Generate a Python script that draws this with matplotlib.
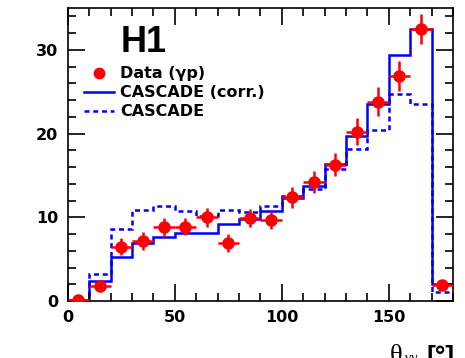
import numpy as np
import matplotlib
matplotlib.use("Agg")
import matplotlib.pyplot as plt
from matplotlib.ticker import MultipleLocator
from matplotlib.lines import Line2D

edges = np.arange(0, 190, 10)
data_y = [0.1, 1.8, 6.5, 7.2, 8.8, 8.9, 10.0, 6.9, 9.9, 9.7, 12.4, 14.2, 16.3, 20.2, 23.8, 26.9, 32.5, 1.9]
data_err = [0.2, 0.5, 1.0, 1.05, 1.1, 1.0, 1.1, 1.05, 1.1, 1.05, 1.25, 1.35, 1.35, 1.6, 1.7, 1.8, 1.8, 0.3]
cascade_corr = [0.1, 2.4, 5.3, 6.9, 7.6, 8.1, 8.1, 9.2, 9.8, 10.8, 12.3, 13.7, 16.4, 19.7, 23.5, 29.4, 32.5, 2.0]
cascade = [0.05, 3.2, 8.6, 10.9, 11.3, 10.8, 10.2, 10.9, 10.6, 11.3, 12.6, 13.4, 15.8, 18.2, 20.4, 24.7, 23.5, 1.1]

plt.rcParams['font.family'] = ['DejaVu Sans']

fig = plt.figure(figsize=(4.65, 3.58), dpi=100)
ax = fig.add_axes([0.1456, 0.159, 0.974 - 0.1456, 0.978 - 0.159])

centers = (edges[:-1] + edges[1:]) / 2
ax.stairs(cascade_corr, edges, color='#0000ff', lw=1.8, baseline=None)
ax.stairs(cascade, edges, color='#0000ff', lw=1.8, ls=(0, (2, 1.5)), baseline=None)
ax.errorbar(centers, data_y, yerr=data_err, xerr=5, fmt='o', color='#ff0000', ms=8,
            elinewidth=1.8, capsize=0, zorder=5)

ax.set_xlim(0, 180)
ax.set_ylim(0, 35)
ax.xaxis.set_major_locator(MultipleLocator(50))
ax.xaxis.set_minor_locator(MultipleLocator(10))
ax.yaxis.set_major_locator(MultipleLocator(10))
ax.yaxis.set_minor_locator(MultipleLocator(2))
ax.tick_params(which='both', direction='in', top=True, right=True, width=1.2)
ax.tick_params(which='major', length=12, labelsize=11.5)
ax.tick_params(axis='y', which='major', pad=6.8)
ax.tick_params(axis='x', which='major', pad=6.5)
ax.tick_params(which='minor', length=6)
for lab in ax.get_xticklabels() + ax.get_yticklabels():
    lab.set_fontweight('bold')
for s in ax.spines.values():
    s.set_linewidth(1.2)

ax.text(0.1376, 0.851, 'H1', transform=ax.transAxes, fontsize=26, fontweight='bold',
        family='Liberation Sans', va='baseline', ha='left')

proxies = [
    Line2D([], [], ls='none', marker='o', color='#ff0000', ms=7.5),
    Line2D([], [], color='#0000ff', lw=1.8),
    Line2D([], [], color='#0000ff', lw=1.8, ls=(0, (2, 1.5))),
]
leg_labels = ['Data (γp)', 'CASCADE (corr.)', 'CASCADE']
ax.legend(proxies, leg_labels, loc='upper left', bbox_to_anchor=(0.026, 0.822), frameon=False,
          prop={'weight': 'bold', 'size': 11.5}, handlelength=1.9,
          handletextpad=0.35, labelspacing=0.25, borderaxespad=0)

fig.text(0.838, 1 - 345 / 358, 'θ', fontsize=19, family='Liberation Serif', ha='left', va='top')
fig.text(0.872, 1 - 352 / 358, 'γγ', fontsize=10, family='Liberation Serif', ha='left', va='top')
fig.text(0.918, 1 - 345 / 358, '[°]', fontsize=19, fontweight='bold', family='Liberation Sans',
         ha='left', va='top')

fig.savefig('out.png', dpi=100)
